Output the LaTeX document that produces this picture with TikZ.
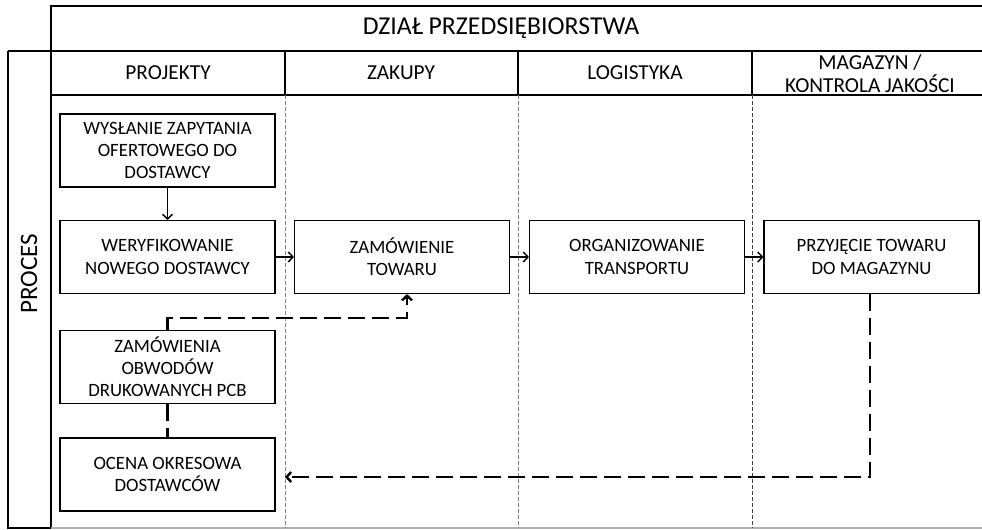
\documentclass[tikz,border=0pt]{standalone}
\usepackage{fontspec}
\setmainfont{Carlito}
\usetikzlibrary{arrows.meta}

\begin{document}
\begin{tikzpicture}[x=0.75pt,y=-0.75pt,
    >={Straight Barb[length=3.5pt,width=7.5pt]},
    krok/.style={draw,line width=1.1pt,minimum width=161pt,minimum height=54.5pt,
        align=center,inner sep=2pt,font=\fontsize{14.1}{16.6}\selectfont},
    kolumna/.style={align=center,font=\fontsize{16}{17.5}\selectfont},
    linia/.style={line width=1.1pt},
    przerywana/.style={line width=1.8pt,dash pattern=on 13pt off 5pt},
    podzial/.style={line width=0.6pt,dash pattern=on 3pt off 1.5pt}]
    \useasboundingbox (0,0) rectangle (982,529);

    % Tabela
    \draw[linia] (51,528) -- (51,6) -- (982,6);
    \draw[linia] (8,51) -- (982,51);
    \draw[linia] (51,95) -- (982,95);
    \draw[linia] (51,528) -- (8,528) -- (8,51);
    \draw[gray!60,line width=1pt] (51,528) -- (982,528);
    \foreach \x/\kolor in {285/gray,518/gray,752/black!75} {
        \draw[linia] (\x,51) -- (\x,95);
        \draw[podzial,\kolor] (\x,95) -- (\x,528);
    }

    % Nagłówki
    \node[font=\fontsize{19.3}{22}\selectfont] (dzial) at (501,28) {DZIAŁ PRZEDSIĘBIORSTWA};
    \node[font=\fontsize{18.8}{22}\selectfont,rotate=90] (proces) at (29,274) {PROCES};
    \node[kolumna] (projekty) at (168,73) {PROJEKTY};
    \node[kolumna] (zakupy) at (401,73) {ZAKUPY};
    \node[kolumna] (logistyka) at (635,73) {LOGISTYKA};
    \node[kolumna] (magazyn) at (870,73.5) {MAGAZYN /\\KONTROLA JAKOŚCI};

    % Kroki procesu
    \node[krok] (zapytanie) at (167.5,150.5) {WYSŁANIE ZAPYTANIA\\OFERTOWEGO DO\\DOSTAWCY};
    \node[krok] (weryfikacja) at (167.5,257) {WERYFIKOWANIE\\NOWEGO DOSTAWCY};
    \node[krok] (zamowienie) at (402,257) {ZAMÓWIENIE\\TOWARU};
    \node[krok] (transport) at (637,257) {ORGANIZOWANIE\\TRANSPORTU};
    \node[krok] (przyjecie) at (871.5,257) {PRZYJĘCIE TOWARU\\DO MAGAZYNU};
    \node[krok] (pcb) at (167.5,367) {ZAMÓWIENIA\\OBWODÓW\\DRUKOWANYCH PCB};
    \node[krok] (ocena) at (167.5,474.5) {OCENA OKRESOWA\\DOSTAWCÓW};

    % Przepływ
    \draw[linia,->] (zapytanie) -- (weryfikacja);
    \draw[linia,->] (weryfikacja) -- (zamowienie);
    \draw[linia,->] (zamowienie) -- (transport);
    \draw[linia,->] (transport) -- (przyjecie);

    % Powiązania przerywane
    \coordinate (zakret) at (407,318);
    \coordinate (powrot) at (870,477);
    \draw[przerywana,->] (pcb.north) |- (zakret) -- (zakret |- zamowienie.south);
    \draw[przerywana] (pcb) -- (ocena);
    \draw[przerywana,->,shorten >=7pt] (przyjecie.south -| powrot) -- (powrot) -- (powrot -| ocena.east);
\end{tikzpicture}
\end{document}
